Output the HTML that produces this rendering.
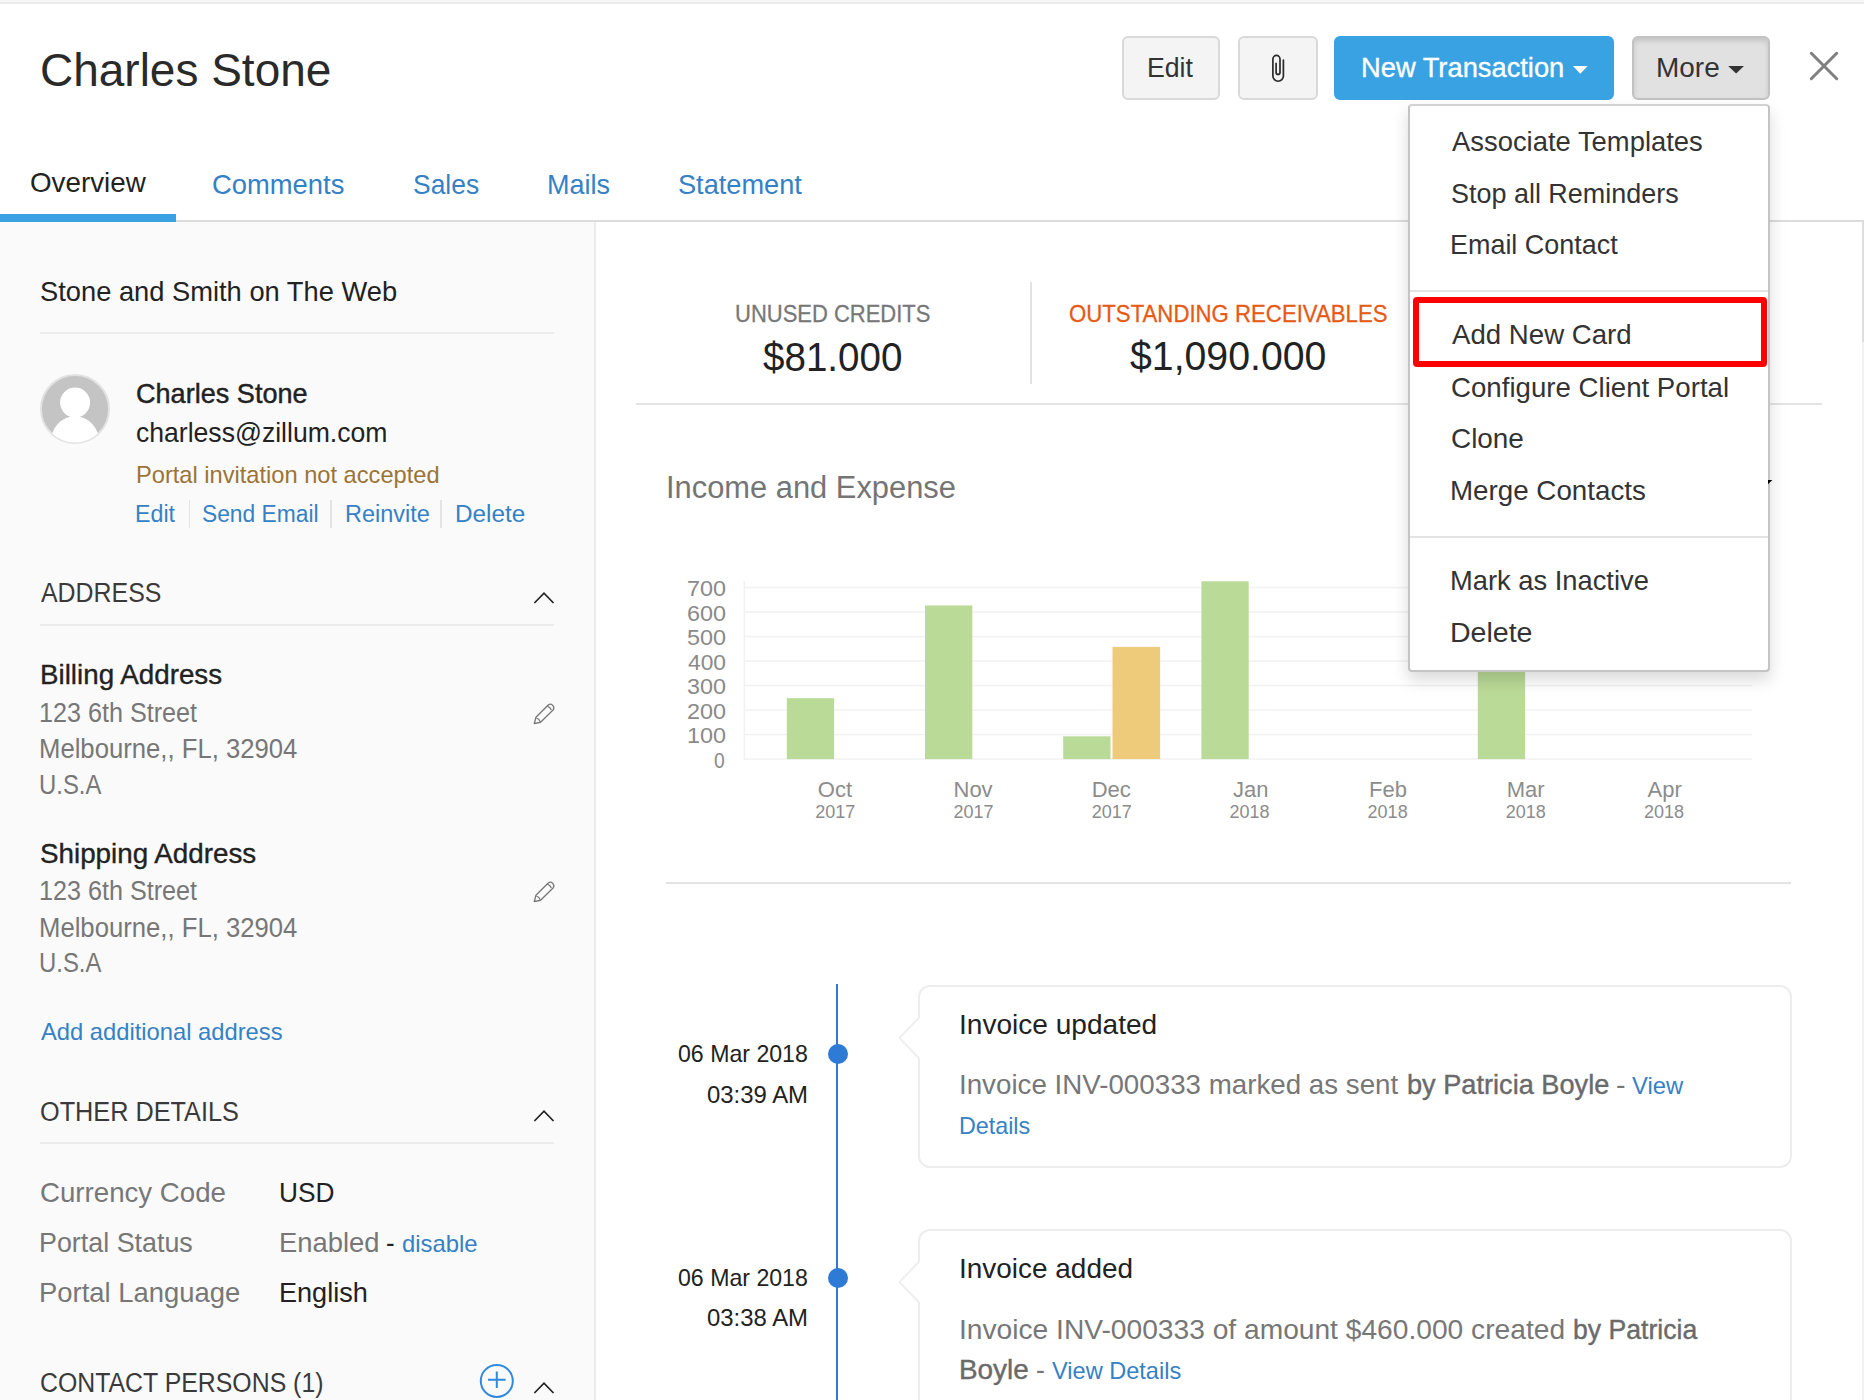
<!DOCTYPE html>
<html><head><meta charset="utf-8">
<style>
*{box-sizing:border-box;margin:0;padding:0}
html,body{width:1864px;height:1400px;overflow:hidden;background:#fff}
body{position:relative;font-family:"Liberation Sans", Arial, sans-serif;color:#222}
.a{position:absolute;white-space:nowrap;line-height:1}
.btn{position:absolute;top:36px;height:64px;border:2px solid #d9d9d9;border-radius:6px;background:#f4f4f4}
</style></head><body>
<div style="position:absolute;left:0;top:0;width:1864px;height:2px;background:#f6f6f6"></div>
<div style="position:absolute;left:0;top:2px;width:1864px;height:2px;background:#ebebeb"></div>
<div style="position:absolute;left:0;top:222px;width:594px;height:1178px;background:#fafafa"></div>
<div style="position:absolute;left:594px;top:222px;width:2px;height:1178px;background:#ebebeb"></div>
<div style="position:absolute;left:0;top:220px;width:1864px;height:2px;background:#dcdcdc"></div>
<div style="position:absolute;left:0;top:214px;width:176px;height:8px;background:#3aa1e2"></div>
<div style="position:absolute;left:1862px;top:222px;width:2px;height:120px;background:#dedede"></div>
<div style="position:absolute;left:1862px;top:342px;width:2px;height:1058px;background:#f1f1f1"></div>
<div class="btn" style="left:1122px;width:98px"></div>
<div class="btn" style="left:1238px;width:80px"></div>
<svg style="position:absolute;left:1260px;top:50px" width="40" height="40" viewBox="1260 50 40 40"><path d="M1283.4 60 V76 A5.25 5.25 0 0 1 1272.9 76 V59 A3.55 3.55 0 0 1 1280 59 V72.4 A1.95 1.95 0 0 1 1276.1 72.4 V63.3" fill="none" stroke="#2a2a2a" stroke-width="1.7" stroke-linecap="round"/></svg>
<div class="btn" style="left:1334px;width:280px;background:#39a2e2;border-color:#39a2e2"></div>
<svg style="position:absolute;left:1570px;top:62px" width="22" height="16" viewBox="1570 62 22 16"><path d="M1572.9 66 H1587.7 L1580.3 73.8 Z" fill="#fff"/></svg>
<div class="btn" style="left:1632px;width:138px;background:#e1e1e1;border-color:#c2c2c2;box-shadow:inset 0 3px 5px rgba(0,0,0,.13)"></div>
<svg style="position:absolute;left:1724px;top:62px" width="24" height="16" viewBox="1724 62 24 16"><path d="M1728.2 66 H1744 L1736.1 73.6 Z" fill="#333"/></svg>
<svg style="position:absolute;left:1806px;top:48px" width="36" height="36" viewBox="1806 48 36 36"><path d="M1811.3 53.3 L1836.7 78.7 M1836.7 53.3 L1811.3 78.7" stroke="#7f7f7f" stroke-width="3" stroke-linecap="round"/></svg>
<div style="position:absolute;left:40px;top:332px;width:514px;height:2px;background:#ebebeb"></div>
<svg style="position:absolute;left:38px;top:372px" width="74" height="74" viewBox="38 372 74 74">
<defs><clipPath id="avc"><circle cx="75" cy="409" r="33.5"/></clipPath></defs>
<circle cx="75" cy="409" r="34" fill="#c4c4c4" stroke="#e2e2e2" stroke-width="2"/>
<g clip-path="url(#avc)" fill="#fff"><circle cx="75.1" cy="402.6" r="15"/><ellipse cx="75" cy="443.2" rx="24.5" ry="27"/></g>
</svg>
<div style="position:absolute;left:188.5px;top:500px;width:1.5px;height:28px;background:#e4e4e4"></div>
<div style="position:absolute;left:330.3px;top:500px;width:1.5px;height:28px;background:#e4e4e4"></div>
<div style="position:absolute;left:440.3px;top:500px;width:1.5px;height:28px;background:#e4e4e4"></div>
<svg style="position:absolute;left:530px;top:588.6px" width="28" height="20" viewBox="530 588.6 28 20"><path d="M534.4 602.6 L544 592.8000000000001 L553.5 602.6" fill="none" stroke="#222" stroke-width="1.7"/></svg>
<div style="position:absolute;left:40px;top:624px;width:514px;height:2px;background:#ebebeb"></div>
<svg style="position:absolute;left:530px;top:700px" width="28" height="28" viewBox="530 700 28 28"><g transform="translate(0 0)" fill="none" stroke="#777" stroke-width="1.3" stroke-linejoin="round"><path d="M534.3 723.5 L535.9 717.3 L548.5 704.7 Q550.7 703.3 552.7 705.4 Q554.7 707.6 553.3 709.7 L540.6 722.3 Z"/><path d="M547.3 706.1 Q550.4 707.2 551.3 710"/><path d="M536.4 718 Q539.4 718.9 540.2 721.9"/></g></svg>
<svg style="position:absolute;left:530px;top:878px" width="28" height="28" viewBox="530 878 28 28"><g transform="translate(0 178)" fill="none" stroke="#777" stroke-width="1.3" stroke-linejoin="round"><path d="M534.3 723.5 L535.9 717.3 L548.5 704.7 Q550.7 703.3 552.7 705.4 Q554.7 707.6 553.3 709.7 L540.6 722.3 Z"/><path d="M547.3 706.1 Q550.4 707.2 551.3 710"/><path d="M536.4 718 Q539.4 718.9 540.2 721.9"/></g></svg>
<svg style="position:absolute;left:530px;top:1106.8px" width="28" height="20" viewBox="530 1106.8 28 20"><path d="M534.4 1120.8 L544 1111.0 L553.5 1120.8" fill="none" stroke="#222" stroke-width="1.7"/></svg>
<div style="position:absolute;left:40px;top:1142px;width:514px;height:2px;background:#ebebeb"></div>
<svg style="position:absolute;left:476px;top:1360px" width="42" height="42" viewBox="476 1360 42 42"><circle cx="496.8" cy="1380.9" r="16" fill="none" stroke="#2f8ae0" stroke-width="2"/><path d="M488 1379.8 H505.6 M496.8 1371.5 V1388" stroke="#2f8ae0" stroke-width="2"/></svg>
<svg style="position:absolute;left:530px;top:1378.7px" width="28" height="20" viewBox="530 1378.7 28 20"><path d="M534.4 1392.7 L544 1382.9 L553.5 1392.7" fill="none" stroke="#222" stroke-width="1.7"/></svg>
<div style="position:absolute;left:1030px;top:282px;width:2px;height:102px;background:#e3e3e3"></div>
<div style="position:absolute;left:636px;top:403px;width:1186px;height:2px;background:#e3e3e3"></div>
<svg style="position:absolute;left:0;top:0" width="1864" height="900" viewBox="0 0 1864 900"><rect x="744" y="758.35" width="1008" height="1.5" fill="#f2f2f2"/><rect x="744" y="733.85" width="1008" height="1.5" fill="#f2f2f2"/><rect x="744" y="709.35" width="1008" height="1.5" fill="#f2f2f2"/><rect x="744" y="684.85" width="1008" height="1.5" fill="#f2f2f2"/><rect x="744" y="660.35" width="1008" height="1.5" fill="#f2f2f2"/><rect x="744" y="635.85" width="1008" height="1.5" fill="#f2f2f2"/><rect x="744" y="611.35" width="1008" height="1.5" fill="#f2f2f2"/><rect x="744" y="586.85" width="1008" height="1.5" fill="#f2f2f2"/><rect x="743.5" y="581" width="1.5" height="179" fill="#f2f2f2"/><rect x="786.8" y="698.2" width="47.3" height="60.9" fill="#bada97"/><rect x="925.0" y="605.5" width="47.3" height="153.6" fill="#bada97"/><rect x="1063.2" y="736.3" width="47.3" height="22.8" fill="#bada97"/><rect x="1201.4" y="581.3" width="47.3" height="177.8" fill="#bada97"/><rect x="1477.8" y="636.6" width="47.3" height="122.5" fill="#bada97"/><rect x="1112.5" y="646.9" width="47.6" height="112.2" fill="#eecb7a"/></svg>
<div style="position:absolute;left:666px;top:882px;width:1125px;height:2px;background:#e3e3e3"></div>
<div style="position:absolute;left:835.8px;top:984px;width:2.2px;height:416px;background:#2e7bd6"></div>
<div style="position:absolute;left:827.8px;top:1044px;width:20px;height:20px;border-radius:50%;background:#2e7bd6"></div>
<div style="position:absolute;left:827.8px;top:1268.2px;width:20px;height:20px;border-radius:50%;background:#2e7bd6"></div>
<div style="position:absolute;left:918px;top:985px;width:874px;height:183px;border:2px solid #ededed;border-radius:12px;background:#fff"></div><svg style="position:absolute;left:895px;top:1011.8px" width="30" height="52" viewBox="895 1011.8 30 52"><path d="M920 1016.3 L899.5 1037.8 L920 1059.3" fill="#fff" stroke="#efefef" stroke-width="2"/><rect x="920" y="1013.8" width="4" height="48" fill="#fff"/></svg>
<div style="position:absolute;left:918px;top:1229px;width:874px;height:211px;border:2px solid #ededed;border-radius:12px;background:#fff"></div><svg style="position:absolute;left:895px;top:1255.8px" width="30" height="52" viewBox="895 1255.8 30 52"><path d="M920 1260.3 L899.5 1281.8 L920 1303.3" fill="#fff" stroke="#efefef" stroke-width="2"/><rect x="920" y="1257.8" width="4" height="48" fill="#fff"/></svg>
<div class="a" style="left:40.44px;top:46.25px;z-index:1;font-size:47px;color:#2a2a2a;transform:scale(0.9782,1.0);transform-origin:0 39.8px;">Charles Stone</div>
<div class="a" style="left:1147.46px;top:53.55px;z-index:1;font-size:27.5px;color:#333;transform:scale(0.9696,1.0);transform-origin:0 23.3px;">Edit</div>
<div class="a" style="left:1360.81px;top:53.55px;z-index:1;font-size:27.5px;color:#fff;-webkit-text-stroke:0.35px #fff;transform:scale(0.9926,1.0);transform-origin:0 23.3px;">New Transaction</div>
<div class="a" style="left:1656.37px;top:53.85px;z-index:1;font-size:27.5px;color:#333;transform:scale(1.0167,1.0);transform-origin:0 23.3px;">More</div>
<div class="a" style="left:29.89px;top:169.25px;z-index:1;font-size:27.5px;color:#222;transform:scale(1.0096,1.0);transform-origin:0 23.3px;">Overview</div>
<div class="a" style="left:211.90px;top:171.25px;z-index:1;font-size:27.5px;color:#3581c6;transform:scale(0.9955,1.0);transform-origin:0 23.3px;">Comments</div>
<div class="a" style="left:413.04px;top:171.25px;z-index:1;font-size:27.5px;color:#3581c6;transform:scale(0.9612,1.0);transform-origin:0 23.3px;">Sales</div>
<div class="a" style="left:546.74px;top:171.25px;z-index:1;font-size:27.5px;color:#3581c6;transform:scale(0.9823,1.0);transform-origin:0 23.3px;">Mails</div>
<div class="a" style="left:678.41px;top:171.25px;z-index:1;font-size:27.5px;color:#3581c6;transform:scale(0.9880,1.0);transform-origin:0 23.3px;">Statement</div>
<div class="a" style="left:39.63px;top:278.05px;z-index:1;font-size:28px;color:#222;transform:scale(0.9748,1.0);transform-origin:0 23.7px;">Stone and Smith on The Web</div>
<div class="a" style="left:135.63px;top:379.65px;z-index:1;font-size:28px;color:#222;-webkit-text-stroke:0.45px #222;transform:scale(0.9670,1.0);transform-origin:0 23.7px;">Charles Stone</div>
<div class="a" style="left:135.65px;top:419.25px;z-index:1;font-size:28px;color:#222;transform:scale(0.9490,1.0);transform-origin:0 23.7px;">charless@zillum.com</div>
<div class="a" style="left:135.62px;top:462.75px;z-index:1;font-size:24px;color:#9b7436;transform:scale(0.9850,1.0);transform-origin:0 20.3px;">Portal invitation not accepted</div>
<div class="a" style="left:134.63px;top:502.85px;z-index:1;font-size:23.5px;color:#3581c6;transform:scale(0.9872,1.0);transform-origin:0 19.9px;">Edit</div>
<div class="a" style="left:202.03px;top:502.85px;z-index:1;font-size:23.5px;color:#3581c6;transform:scale(0.9695,1.0);transform-origin:0 19.9px;">Send Email</div>
<div class="a" style="left:344.70px;top:502.85px;z-index:1;font-size:23.5px;color:#3581c6;transform:scale(0.9976,1.0);transform-origin:0 19.9px;">Reinvite</div>
<div class="a" style="left:455.03px;top:502.85px;z-index:1;font-size:23.5px;color:#3581c6;transform:scale(1.0354,1.0);transform-origin:0 19.9px;">Delete</div>
<div class="a" style="left:40.70px;top:580.45px;z-index:1;font-size:27px;color:#3a3a3a;transform:scale(0.9223,1.0);transform-origin:0 22.9px;">ADDRESS</div>
<div class="a" style="left:40.19px;top:661.15px;z-index:1;font-size:27.5px;color:#222;-webkit-text-stroke:0.35px #222;transform:scale(1.0095,1.0);transform-origin:0 23.3px;">Billing Address</div>
<div class="a" style="left:38.87px;top:699.45px;z-index:1;font-size:27.5px;color:#777;transform:scale(0.9152,1.0);transform-origin:0 23.3px;">123 6th Street</div>
<div class="a" style="left:38.83px;top:735.05px;z-index:1;font-size:27.5px;color:#777;transform:scale(0.9336,1.0);transform-origin:0 23.3px;">Melbourne,, FL, 32904</div>
<div class="a" style="left:38.96px;top:770.85px;z-index:1;font-size:27.5px;color:#777;transform:scale(0.8686,1.0);transform-origin:0 23.3px;">U.S.A</div>
<div class="a" style="left:39.89px;top:839.65px;z-index:1;font-size:27.5px;color:#222;-webkit-text-stroke:0.35px #222;transform:scale(1.0103,1.0);transform-origin:0 23.3px;">Shipping Address</div>
<div class="a" style="left:38.87px;top:877.45px;z-index:1;font-size:27.5px;color:#777;transform:scale(0.9152,1.0);transform-origin:0 23.3px;">123 6th Street</div>
<div class="a" style="left:38.83px;top:913.65px;z-index:1;font-size:27.5px;color:#777;transform:scale(0.9336,1.0);transform-origin:0 23.3px;">Melbourne,, FL, 32904</div>
<div class="a" style="left:38.96px;top:949.45px;z-index:1;font-size:27.5px;color:#777;transform:scale(0.8686,1.0);transform-origin:0 23.3px;">U.S.A</div>
<div class="a" style="left:40.50px;top:1020.45px;z-index:1;font-size:24px;color:#3581c6;transform:scale(0.9893,1.0);transform-origin:0 20.3px;">Add additional address</div>
<div class="a" style="left:40.16px;top:1098.75px;z-index:1;font-size:27px;color:#3a3a3a;transform:scale(0.9355,1.0);transform-origin:0 22.9px;">OTHER DETAILS</div>
<div class="a" style="left:39.99px;top:1178.95px;z-index:1;font-size:27.5px;color:#777;transform:scale(1.0055,1.0);transform-origin:0 23.3px;">Currency Code</div>
<div class="a" style="left:278.59px;top:1178.95px;z-index:1;font-size:27.5px;color:#222;transform:scale(0.9545,1.0);transform-origin:0 23.3px;">USD</div>
<div class="a" style="left:39.05px;top:1229.05px;z-index:1;font-size:27.5px;color:#777;transform:scale(0.9768,1.0);transform-origin:0 23.3px;">Portal Status</div>
<div class="a" style="left:278.51px;top:1229.05px;z-index:1;font-size:27.5px;color:#777;transform:scale(0.9949,1.0);transform-origin:0 23.3px;">Enabled</div>
<div class="a" style="left:386.36px;top:1229.05px;z-index:1;font-size:27.5px;color:#222;transform:scale(0.9375,1.0);transform-origin:0 23.3px;">-</div>
<div class="a" style="left:401.71px;top:1232.05px;z-index:1;font-size:24px;color:#3581c6;transform:scale(0.9933,1.0);transform-origin:0 20.3px;">disable</div>
<div class="a" style="left:39.01px;top:1279.15px;z-index:1;font-size:27.5px;color:#777;transform:scale(0.9965,1.0);transform-origin:0 23.3px;">Portal Language</div>
<div class="a" style="left:278.53px;top:1279.15px;z-index:1;font-size:27.5px;color:#222;transform:scale(0.9839,1.0);transform-origin:0 23.3px;">English</div>
<div class="a" style="left:40.08px;top:1370.45px;z-index:1;font-size:27px;color:#3a3a3a;transform:scale(0.9203,1.0);transform-origin:0 22.9px;">CONTACT PERSONS (1)</div>
<div class="a" style="left:734.98px;top:302.35px;z-index:1;font-size:24px;color:#777;-webkit-text-stroke:0.3px #777;transform:scale(0.9160,1.0);transform-origin:0 20.3px;">UNUSED CREDITS</div>
<div class="a" style="left:763.00px;top:336.75px;z-index:1;font-size:40px;color:#222;transform:scale(0.9639,1.0);transform-origin:0 33.9px;">$81.000</div>
<div class="a" style="left:1068.90px;top:302.25px;z-index:1;font-size:24px;color:#e65a14;-webkit-text-stroke:0.3px #e65a14;transform:scale(0.9247,1.0);transform-origin:0 20.3px;">OUTSTANDING RECEIVABLES</div>
<div class="a" style="left:1130.00px;top:336.15px;z-index:1;font-size:40px;color:#222;transform:scale(0.9809,1.0);transform-origin:0 33.9px;">$1,090.000</div>
<div class="a" style="left:666.01px;top:472.25px;z-index:1;font-size:31px;color:#757575;transform:scale(0.9955,1.0);transform-origin:0 26.2px;">Income and Expense</div>
<div class="a" style="left:714.30px;top:749.75px;z-index:1;font-size:22px;color:#8a8a8a;transform:scale(0.8750,1.0);transform-origin:0 18.6px;">0</div>
<div class="a" style="left:686.54px;top:725.25px;z-index:1;font-size:22px;color:#8a8a8a;transform:scale(1.0629,1.0);transform-origin:0 18.6px;">100</div>
<div class="a" style="left:686.54px;top:700.75px;z-index:1;font-size:22px;color:#8a8a8a;transform:scale(1.0629,1.0);transform-origin:0 18.6px;">200</div>
<div class="a" style="left:686.54px;top:676.25px;z-index:1;font-size:22px;color:#8a8a8a;transform:scale(1.0629,1.0);transform-origin:0 18.6px;">300</div>
<div class="a" style="left:687.60px;top:651.75px;z-index:1;font-size:22px;color:#8a8a8a;transform:scale(1.0333,1.0);transform-origin:0 18.6px;">400</div>
<div class="a" style="left:686.54px;top:627.25px;z-index:1;font-size:22px;color:#8a8a8a;transform:scale(1.0629,1.0);transform-origin:0 18.6px;">500</div>
<div class="a" style="left:686.54px;top:602.75px;z-index:1;font-size:22px;color:#8a8a8a;transform:scale(1.0629,1.0);transform-origin:0 18.6px;">600</div>
<div class="a" style="left:686.54px;top:578.25px;z-index:1;font-size:22px;color:#8a8a8a;transform:scale(1.0629,1.0);transform-origin:0 18.6px;">700</div>
<div class="a" style="left:817.80px;top:778.65px;z-index:1;font-size:22px;color:#8c8c8c;">Oct</div>
<div class="a" style="left:815.30px;top:803.45px;z-index:1;font-size:18px;color:#8c8c8c;">2017</div>
<div class="a" style="left:953.50px;top:778.65px;z-index:1;font-size:22px;color:#8c8c8c;">Nov</div>
<div class="a" style="left:953.50px;top:803.45px;z-index:1;font-size:18px;color:#8c8c8c;">2017</div>
<div class="a" style="left:1091.70px;top:778.65px;z-index:1;font-size:22px;color:#8c8c8c;">Dec</div>
<div class="a" style="left:1091.70px;top:803.45px;z-index:1;font-size:18px;color:#8c8c8c;">2017</div>
<div class="a" style="left:1232.90px;top:778.65px;z-index:1;font-size:22px;color:#8c8c8c;">Jan</div>
<div class="a" style="left:1229.40px;top:803.45px;z-index:1;font-size:18px;color:#8c8c8c;">2018</div>
<div class="a" style="left:1369.10px;top:778.65px;z-index:1;font-size:22px;color:#8c8c8c;">Feb</div>
<div class="a" style="left:1367.60px;top:803.45px;z-index:1;font-size:18px;color:#8c8c8c;">2018</div>
<div class="a" style="left:1506.80px;top:778.65px;z-index:1;font-size:22px;color:#8c8c8c;">Mar</div>
<div class="a" style="left:1505.80px;top:803.45px;z-index:1;font-size:18px;color:#8c8c8c;">2018</div>
<div class="a" style="left:1647.50px;top:778.65px;z-index:1;font-size:22px;color:#8c8c8c;">Apr</div>
<div class="a" style="left:1644.00px;top:803.45px;z-index:1;font-size:18px;color:#8c8c8c;">2018</div>
<div class="a" style="left:677.70px;top:1042.25px;z-index:1;font-size:24px;color:#222;transform:scale(0.9634,1.0);transform-origin:0 20.3px;">06 Mar 2018</div>
<div class="a" style="left:707.20px;top:1082.65px;z-index:1;font-size:24px;color:#222;transform:scale(0.9960,1.0);transform-origin:0 20.3px;">03:39 AM</div>
<div class="a" style="left:677.70px;top:1266.25px;z-index:1;font-size:24px;color:#222;transform:scale(0.9634,1.0);transform-origin:0 20.3px;">06 Mar 2018</div>
<div class="a" style="left:707.20px;top:1306.05px;z-index:1;font-size:24px;color:#222;transform:scale(0.9960,1.0);transform-origin:0 20.3px;">03:38 AM</div>
<div class="a" style="left:959.26px;top:1011.45px;z-index:1;font-size:27.5px;color:#222;transform:scale(1.0209,1.0);transform-origin:0 23.3px;">Invoice updated</div>
<div class="a" style="left:959.28px;top:1071.25px;z-index:1;font-size:27.5px;color:#777;transform:scale(1.0081,1.0);transform-origin:0 23.3px;">Invoice INV-000333 marked as sent</div>
<div class="a" style="left:1407.31px;top:1071.05px;z-index:1;font-size:27.5px;color:#6a6a6a;-webkit-text-stroke:0.4px #6a6a6a;transform:scale(0.9877,1.0);transform-origin:0 23.3px;">by Patricia Boyle</div>
<div class="a" style="left:1616.26px;top:1071.05px;z-index:1;font-size:27.5px;color:#777;transform:scale(1.0429,1.0);transform-origin:0 23.3px;">-</div>
<div class="a" style="left:1632.40px;top:1073.95px;z-index:1;font-size:24px;color:#3581c6;transform:scale(0.9904,1.0);transform-origin:0 20.3px;">View</div>
<div class="a" style="left:959.36px;top:1114.05px;z-index:1;font-size:24px;color:#3581c6;transform:scale(0.9704,1.0);transform-origin:0 20.3px;">Details</div>
<div class="a" style="left:959.27px;top:1255.15px;z-index:1;font-size:27.5px;color:#222;transform:scale(1.0161,1.0);transform-origin:0 23.3px;">Invoice added</div>
<div class="a" style="left:959.25px;top:1315.75px;z-index:1;font-size:27.5px;color:#777;transform:scale(1.0243,1.0);transform-origin:0 23.3px;">Invoice INV-000333 of amount $460.000 created</div>
<div class="a" style="left:1572.83px;top:1315.75px;z-index:1;font-size:27.5px;color:#6a6a6a;-webkit-text-stroke:0.4px #6a6a6a;transform:scale(0.9680,1.0);transform-origin:0 23.3px;">by Patricia</div>
<div class="a" style="left:959.27px;top:1355.55px;z-index:1;font-size:27.5px;color:#6a6a6a;-webkit-text-stroke:0.4px #6a6a6a;transform:scale(1.0136,1.0);transform-origin:0 23.3px;">Boyle</div>
<div class="a" style="left:1036.03px;top:1355.55px;z-index:1;font-size:27.5px;color:#777;transform:scale(0.9714,1.0);transform-origin:0 23.3px;">-</div>
<div class="a" style="left:1052.10px;top:1358.55px;z-index:1;font-size:24px;color:#3581c6;transform:scale(0.9817,1.0);transform-origin:0 20.3px;">View Details</div>
<div style="position:absolute;left:1408px;top:104px;width:362px;height:568px;border:2px solid #c4c4c4;border-top-color:#d2d2d2;border-radius:4px;background:#fff;box-shadow:0 8px 16px rgba(0,0,0,.15);z-index:5"></div>
<div style="position:absolute;left:1410px;top:290px;width:358px;height:2px;background:#e3e3e3;z-index:5"></div>
<div style="position:absolute;left:1410px;top:536px;width:358px;height:2px;background:#e3e3e3;z-index:5"></div>
<div class="a" style="left:1451.70px;top:128.05px;z-index:6;font-size:27.5px;color:#333;transform:scale(0.9964,1.0);transform-origin:0 23.3px;">Associate Templates</div>
<div class="a" style="left:1450.72px;top:179.65px;z-index:6;font-size:27.5px;color:#333;transform:scale(0.9797,1.0);transform-origin:0 23.3px;">Stop all Reminders</div>
<div class="a" style="left:1449.74px;top:231.35px;z-index:6;font-size:27.5px;color:#333;transform:scale(0.9794,1.0);transform-origin:0 23.3px;">Email Contact</div>
<div class="a" style="left:1451.70px;top:321.25px;z-index:6;font-size:27.5px;color:#333;transform:scale(1.0045,1.0);transform-origin:0 23.3px;">Add New Card</div>
<div class="a" style="left:1450.69px;top:373.65px;z-index:6;font-size:27.5px;color:#333;transform:scale(1.0051,1.0);transform-origin:0 23.3px;">Configure Client Portal</div>
<div class="a" style="left:1450.69px;top:425.25px;z-index:6;font-size:27.5px;color:#333;transform:scale(1.0143,1.0);transform-origin:0 23.3px;">Clone</div>
<div class="a" style="left:1449.68px;top:477.25px;z-index:6;font-size:27.5px;color:#333;transform:scale(1.0089,1.0);transform-origin:0 23.3px;">Merge Contacts</div>
<div class="a" style="left:1449.71px;top:567.45px;z-index:6;font-size:27.5px;color:#333;transform:scale(0.9934,1.0);transform-origin:0 23.3px;">Mark as Inactive</div>
<div class="a" style="left:1449.62px;top:619.05px;z-index:6;font-size:27.5px;color:#333;transform:scale(1.0377,1.0);transform-origin:0 23.3px;">Delete</div>
<div style="position:absolute;left:1413px;top:297px;width:354px;height:70px;border:6px solid #ff0000;border-radius:4px;z-index:7"></div>
<svg style="position:absolute;left:1766px;top:478px;z-index:7" width="8" height="8" viewBox="1766 478 8 8"><path d="M1768 480 H1772.3 L1768 484.3 Z" fill="#000"/></svg>
</body></html>
